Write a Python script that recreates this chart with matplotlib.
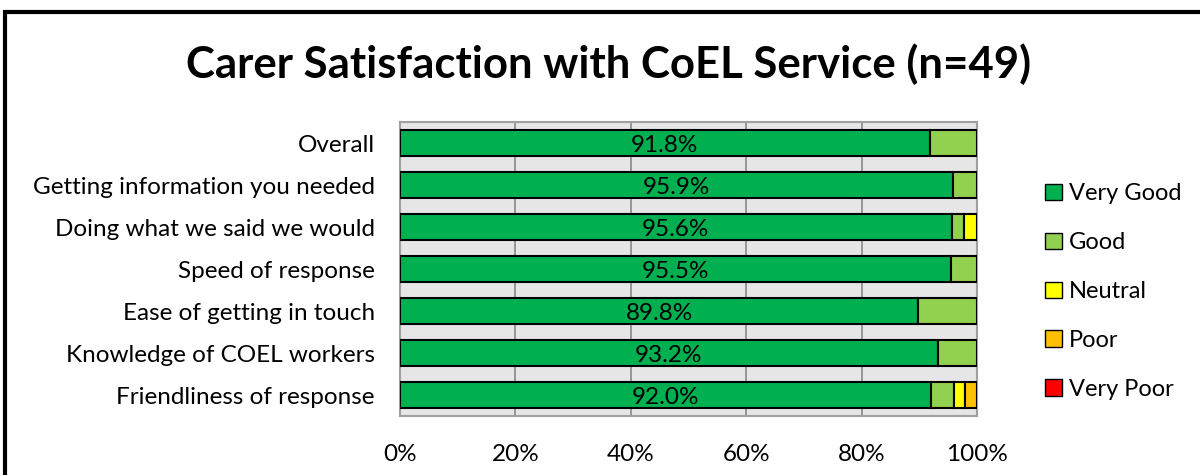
import matplotlib
matplotlib.use("Agg")
import matplotlib.pyplot as plt
from matplotlib.patches import Rectangle, Patch
import numpy as np

plt.rcParams['font.family'] = ['Lato', 'DejaVu Sans']

categories = ["Overall", "Getting information you needed", "Doing what we said we would",
              "Speed of response", "Ease of getting in touch", "Knowledge of COEL workers",
              "Friendliness of response"]
very_good = [91.8, 95.9, 95.6, 95.5, 89.8, 93.2, 92.0]
good = [8.2, 4.1, 2.2, 4.5, 10.2, 6.8, 4.0]
neutral = [0.0, 0.0, 2.2, 0.0, 0.0, 0.0, 2.0]
poor = [0.0, 0.0, 0.0, 0.0, 0.0, 0.0, 2.0]
very_poor = [0.0, 0.0, 0.0, 0.0, 0.0, 0.0, 0.0]
series_names = ["Very Good", "Good", "Neutral", "Poor", "Very Poor"]
colors = ["#00B050", "#92D050", "#FFFF00", "#FFC000", "#FF0000"]
xticks = [0, 20, 40, 60, 80, 100]

fig = plt.figure(figsize=(12, 4.75), dpi=100)
ax = fig.add_axes([400/1200, 1-416/475, 577/1200, 294/475])
ax.set_facecolor("#E6E6E6")

y = np.arange(len(categories))
series = [very_good, good, neutral, poor, very_poor]
left = np.zeros(len(categories))
for vals, c, name in zip(series, colors, series_names):
    v = np.array(vals)
    mask = v > 0
    ax.barh(y[mask], v[mask], left=left[mask], height=0.64, color=c,
            edgecolor="black", linewidth=1.5, zorder=3)
    left += v

for yi, v in zip(y, very_good):
    ax.text(v/2, yi + 0.05, f"{v:.1f}%", ha="center", va="center", fontsize=17.5, zorder=4)

ax.set_xlim(0, 100)
ax.set_ylim(len(categories)-0.5, -0.5)
ax.set_yticks(y)
ax.set_yticklabels(categories, fontsize=17.5)
ax.set_xticks(xticks)
ax.set_xticklabels([f"{t}%" for t in xticks], fontsize=17.5)
ax.tick_params(axis="both", length=0)
ax.tick_params(axis="y", pad=18)
ax.tick_params(axis="x", pad=20)
ax.grid(axis="x", color="#888888", linewidth=1.2, zorder=1)
for s in ax.spines.values():
    s.set_color("#A0A0A0")
    s.set_linewidth(1.5)

handles = [Patch(facecolor=c, edgecolor="black", label=n) for c, n in zip(colors, series_names)]
leg = fig.legend(handles=handles, loc="upper left", bbox_to_anchor=(1036/1200, 1-174/475),
                 frameon=False, fontsize=17, handlelength=0.7, handleheight=0.7,
                 handletextpad=0.3, labelspacing=1.18, borderaxespad=0)

fig.text(0.507, 1-64/475, "Carer Satisfaction with CoEL Service (n=49)", ha="center", va="center",
         fontsize=31.5, fontweight="bold")

fig.patches.append(Rectangle((5/1200, -0.1), 1.2, 1-12/475+0.1, transform=fig.transFigure,
                             fill=False, edgecolor="black", linewidth=3))

fig.savefig("out.png", dpi=100)
